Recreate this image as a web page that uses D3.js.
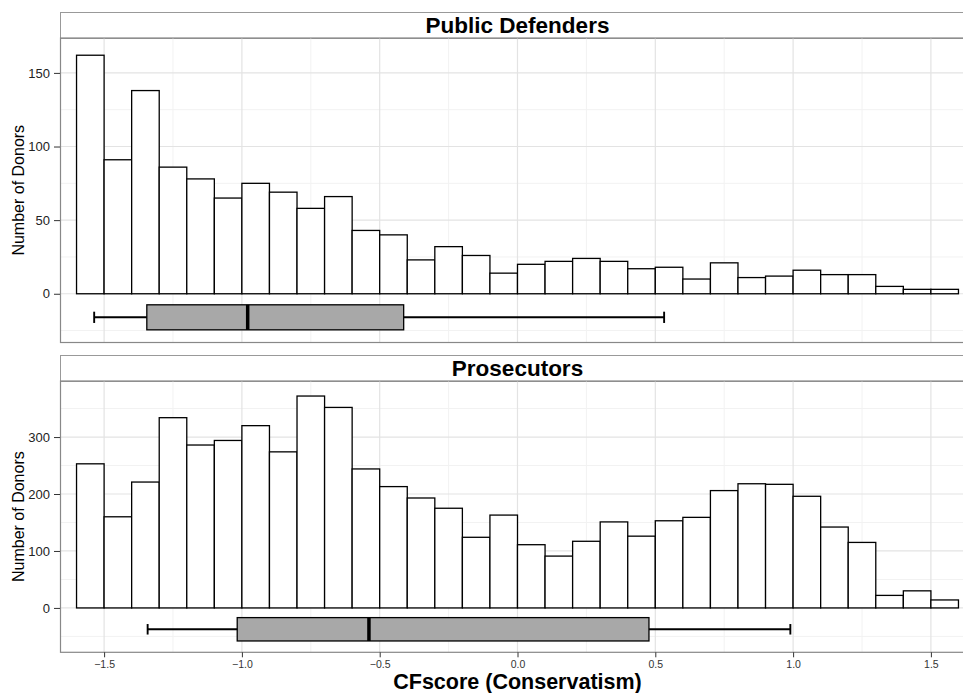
<!DOCTYPE html>
<html lang="en">
<head>
  <meta charset="UTF-8">
  <title>CFscore histograms</title>
  <script src="https://d3js.org/d3.v7.min.js"></script>
  <style>
    body { margin: 0; background: #fff; }
    text { font-family: "Liberation Sans", Arial, Helvetica, sans-serif; }
  </style>
</head>
<body>
<script>
  // ---- data -------------------------------------------------------------
  const binLefts = [
    -1.6, -1.5, -1.4, -1.3, -1.2, -1.1, -1.0, -0.9, -0.8, -0.7, -0.6,
    -0.5, -0.4, -0.3, -0.2, -0.1, 0.0, 0.1, 0.2, 0.3, 0.4, 0.5,
    0.6, 0.7, 0.8, 0.9, 1.0, 1.1, 1.2, 1.3, 1.4, 1.5
  ];
  const binWidth = 0.1;

  const defenderCounts = [
    162, 91, 138, 86, 78, 65, 75, 69, 58, 66, 43,
    40, 23, 32, 26, 14, 20, 22, 24, 22, 17, 18,
    10, 21, 11, 12, 16, 13, 13, 5, 3, 3
  ];
  const prosecutorCounts = [
    253, 160, 221, 334, 286, 294, 320, 274, 372, 352, 244,
    213, 193, 175, 124, 163, 111, 91, 117, 151, 126, 153,
    159, 206, 218, 217, 196, 142, 115, 22, 30, 14
  ];

  // whisker low, q1, median, q3, whisker high
  const defenderBox = [-1.536, -1.345, -0.979, -0.413, 0.532];
  const prosecutorBox = [-1.342, -1.017, -0.539, 0.477, 0.990];

  const xTicks = [-1.5, -1.0, -0.5, 0.0, 0.5, 1.0, 1.5];
  const xMinor = [-1.25, -0.75, -0.25, 0.25, 0.75, 1.25];
  const defenderYTicks = [0, 50, 100, 150];
  const defenderYMinor = [-25, 25, 75, 125];
  const prosecutorYTicks = [0, 100, 200, 300];
  const prosecutorYMinor = [-50, 50, 150, 250, 350];

  // ---- layout -----------------------------------------------------------
  const W = 963, H = 693;
  const left = 60, right = 975;   // panel runs a little past the window edge

  const panels = [
    {
      title: "Public Defenders", counts: defenderCounts, box: defenderBox,
      yTicks: defenderYTicks, yMinor: defenderYMinor,
      stripTop: 12, top: 38, bottom: 342.5, yDomain: [-33.1, 173.7],
      boxMid: -16, boxHalf: 8.5, showX: false
    },
    {
      title: "Prosecutors", counts: prosecutorCounts, box: prosecutorBox,
      yTicks: prosecutorYTicks, yMinor: prosecutorYMinor,
      stripTop: 355, top: 381, bottom: 652.3, yDomain: [-77.9, 398.4],
      boxMid: -37.5, boxHalf: 20.5, showX: true
    }
  ];

  const svg = d3.select("body").append("svg")
      .attr("width", W)
      .attr("height", H);

  const x = d3.scaleLinear().domain([-1.66, 1.66]).range([left, right]);

  panels.forEach(p => {
    const y = d3.scaleLinear().domain(p.yDomain).range([p.bottom, p.top]);
    const g = svg.append("g");

    // strip
    g.append("rect")
        .attr("x", left + 0.5).attr("y", p.stripTop + 0.5)
        .attr("width", right - left).attr("height", p.top - p.stripTop)
        .attr("fill", "#fff").attr("stroke", "#999").attr("stroke-width", 1);
    g.append("text")
        .attr("x", (left + right) / 2)
        .attr("y", p.stripTop + 21.3)
        .attr("text-anchor", "middle")
        .attr("font-size", 22.5).attr("font-weight", "bold")
        .text(p.title);

    // grid
    g.selectAll(".ymin").data(p.yMinor).enter().append("line")
        .attr("x1", left).attr("x2", right)
        .attr("y1", d => y(d)).attr("y2", d => y(d))
        .attr("stroke", "#f2f2f2").attr("stroke-width", 1);
    g.selectAll(".xmin").data(xMinor).enter().append("line")
        .attr("y1", p.top).attr("y2", p.bottom)
        .attr("x1", d => x(d)).attr("x2", d => x(d))
        .attr("stroke", "#f2f2f2").attr("stroke-width", 1);
    g.selectAll(".ymaj").data(p.yTicks).enter().append("line")
        .attr("x1", left).attr("x2", right)
        .attr("y1", d => y(d)).attr("y2", d => y(d))
        .attr("stroke", "#e3e3e3").attr("stroke-width", 1.2);
    g.selectAll(".xmaj").data(xTicks).enter().append("line")
        .attr("y1", p.top).attr("y2", p.bottom)
        .attr("x1", d => x(d)).attr("x2", d => x(d))
        .attr("stroke", "#e3e3e3").attr("stroke-width", 1.2);

    // histogram bars
    g.selectAll(".bar").data(p.counts).enter().append("rect")
        .attr("x", (d, i) => x(binLefts[i]))
        .attr("width", (d, i) => x(binLefts[i] + binWidth) - x(binLefts[i]))
        .attr("y", d => y(d))
        .attr("height", d => y(0) - y(d))
        .attr("fill", "#fff").attr("stroke", "#000").attr("stroke-width", 1.3);

    // boxplot
    const [lo, q1, med, q3, hi] = p.box;
    const by = y(p.boxMid);
    const capH = y(p.boxMid) - y(p.boxMid + p.boxHalf * 0.45);
    g.append("line")
        .attr("x1", x(lo)).attr("x2", x(hi)).attr("y1", by).attr("y2", by)
        .attr("stroke", "#000").attr("stroke-width", 1.9);
    [lo, hi].forEach(v => {
      g.append("line")
          .attr("x1", x(v)).attr("x2", x(v))
          .attr("y1", by - capH).attr("y2", by + capH)
          .attr("stroke", "#000").attr("stroke-width", 1.9);
    });
    g.append("rect")
        .attr("x", x(q1)).attr("width", x(q3) - x(q1))
        .attr("y", y(p.boxMid + p.boxHalf))
        .attr("height", y(p.boxMid - p.boxHalf) - y(p.boxMid + p.boxHalf))
        .attr("fill", "#a8a8a8").attr("stroke", "#000").attr("stroke-width", 1.3);
    g.append("line")
        .attr("x1", x(med)).attr("x2", x(med))
        .attr("y1", y(p.boxMid + p.boxHalf)).attr("y2", y(p.boxMid - p.boxHalf))
        .attr("stroke", "#000").attr("stroke-width", 3.5);

    // panel border
    g.append("rect")
        .attr("x", left + 0.5).attr("y", p.top)
        .attr("width", right - left).attr("height", p.bottom - p.top)
        .attr("fill", "none").attr("stroke", "#888").attr("stroke-width", 1.2);

    // y axis
    const yAxis = d3.axisLeft(y).tickValues(p.yTicks).tickSize(6).tickPadding(4)
        .tickFormat(d3.format("d"));
    const ya = g.append("g").attr("transform", `translate(${left},0)`).call(yAxis);
    ya.select(".domain").remove();
    ya.selectAll("line").attr("stroke", "#333");
    ya.selectAll("text").attr("font-size", 13).attr("fill", "#222");

    g.append("text")
        .attr("transform", `translate(23.5,${(p.top + p.bottom) / 2}) rotate(-90)`)
        .attr("text-anchor", "middle")
        .attr("font-size", 16)
        .text("Number of Donors");

    if (p.showX) {
      const xAxis = d3.axisBottom(x).tickValues(xTicks).tickSize(5).tickPadding(3)
          .tickFormat(d3.format(".1f"));
      const xa = g.append("g").attr("transform", `translate(0,${p.bottom})`).call(xAxis);
      xa.select(".domain").remove();
      xa.selectAll("line").attr("stroke", "#333");
      xa.selectAll("text").attr("font-size", 10.5).attr("fill", "#333");
    }
  });

  svg.append("text")
      .attr("x", (left + right) / 2)
      .attr("y", 689)
      .attr("text-anchor", "middle")
      .attr("font-size", 21.5).attr("font-weight", "bold")
      .text("CFscore (Conservatism)");
</script>
</body>
</html>
